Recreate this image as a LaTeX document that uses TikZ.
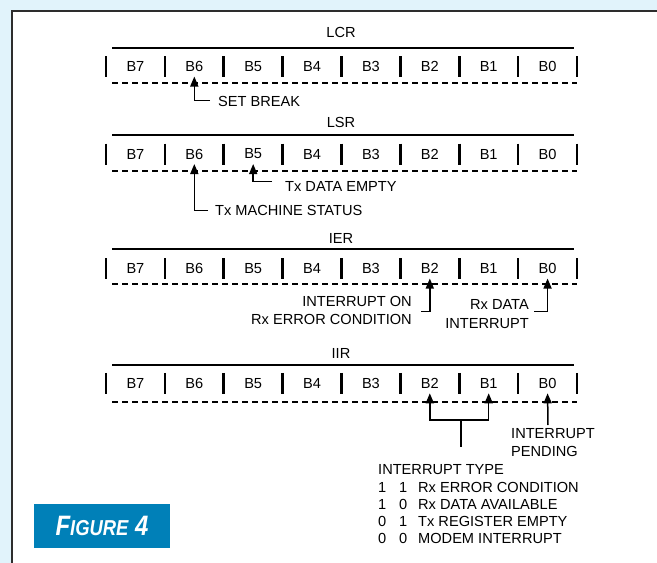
\documentclass[tikz,border=0pt]{standalone}
\usepackage{fontspec}
\setmainfont{Liberation Sans}
\usetikzlibrary{arrows.meta}
\definecolor{bgblue}{RGB}{225,243,251}
\definecolor{figblue}{RGB}{0,128,184}
\definecolor{framegray}{RGB}{45,45,45}
\newcommand\bitreg[6]{% #1 name, #2 title, #3 title y, #4 line y, #5 row y, #6 dashed y
  \node[lbl] (#1-title) at (341,#3) {#2};
  \draw[topbar] (112,#4) -- (574,#4);
  \foreach \i in {0,...,8} {\draw[bitbar] ({106+58.875*\i},{#5-10.5}) -- ({106+58.875*\i},{#5+10.5});}
  \foreach \i/\b in {0/7,1/6,2/5,3/4,4/3,5/2,6/1,7/0} {%
    \node[lbl] (#1-b\b) at ({106+58.875*(\i+0.5)},#5) {B\b};
    \coordinate (#1-t\b) at ({106+58.875*(\i+0.5)},{#5+10});}
  \draw[dashbar] (112,#6) -- (577,#6);
}
\begin{document}
\begin{tikzpicture}[x=1pt,y=-1pt,
  lbl/.style={inner sep=0pt, font=\fontsize{14.6}{18.4}\selectfont},
  bitbar/.style={line width=2.6pt},
  topbar/.style={line width=2.2pt},
  dashbar/.style={line width=2pt, dash pattern=on 6pt off 4pt},
  arr/.style={line width=1.5pt, -{Triangle[length=10pt,width=8pt]}},
  plainline/.style={line width=1.5pt}]
\useasboundingbox (0,0) rectangle (657,563);
\fill[bgblue] (0,0) rectangle (657,563);
\fill[white] (11,10) rectangle (657,563);
\draw[framegray, line width=1.8pt] (11.9,563) -- (11.9,10.9) -- (657,10.9);

% LCR
\bitreg{lcr}{LCR}{32.7}{47.7}{66.5}{82.7}
\node[lbl, anchor=west] (setbreak) at (218,101.5) {SET BREAK};
\draw[arr] ([xshift=-8pt,yshift=1pt]setbreak.west) -| (lcr-t6);

% LSR
\bitreg{lsr}{LSR}{122.7}{135}{154}{171}
\node[lbl, anchor=west] (txde) at (285,186.5) {Tx DATA EMPTY};
\draw[arr] ([xshift=-13pt,yshift=5pt]txde.west) -| (lsr-t5);
\node[lbl, anchor=west] (txms) at (215,210.5) {Tx MACHINE STATUS};
\draw[arr] ([xshift=-7pt]txms.west) -| (lsr-t6);

% IER
\bitreg{ier}{IER}{238}{249}{268.5}{284}
\node[lbl, align=right, anchor=east] (ierb2) at (412,310.5) {INTERRUPT ON\\Rx ERROR CONDITION};
\draw[arr] ([xshift=9pt,yshift=-1pt]ierb2.east) -| (ier-t2);
\node[lbl, align=right, anchor=east] (ierb0) at (529,314) {Rx DATA\\INTERRUPT};
\draw[arr] ([xshift=5pt,yshift=2.3pt]ierb0.east) -| (ier-t0);

% IIR
\bitreg{iir}{IIR}{353.5}{365}{383.3}{401.7}
\coordinate (iir-mid) at (461,420);
\coordinate (iir-stem) at (461,447);
\draw[arr] (iir-mid) -| (iir-t2);
\draw[arr] (iir-mid) -| (iir-t1);
\draw[plainline] (iir-mid) -- (iir-stem);
\node[lbl, align=left, anchor=west] (pend) at (511,442.5) {INTERRUPT\\PENDING};
\coordinate (iir-p) at (548,425);
\draw[arr] (iir-p) -- (iir-t0);

\node[lbl, align=left, anchor=north west, font=\fontsize{14.6}{17.1}\selectfont] (itype) at (378,464.7)
 {INTERRUPT TYPE\\
  \makebox[21pt][l]{1}\makebox[19pt][l]{1}Rx ERROR CONDITION\\
  \makebox[21pt][l]{1}\makebox[19pt][l]{0}Rx DATA AVAILABLE\\
  \makebox[21pt][l]{0}\makebox[19pt][l]{1}Tx REGISTER EMPTY\\
  \makebox[21pt][l]{0}\makebox[19pt][l]{0}MODEM INTERRUPT};

% Figure label
\node[fill=figblue, minimum width=136pt, minimum height=44pt, inner sep=0pt, text=white] (fig) at (102,525.5)
 {\scalebox{0.92}[1.08]{\bfseries\itshape\fontsize{26}{26}\selectfont F\fontsize{20}{26}\selectfont IGURE\fontsize{26}{26}\selectfont\ 4}};
\end{tikzpicture}
\end{document}
